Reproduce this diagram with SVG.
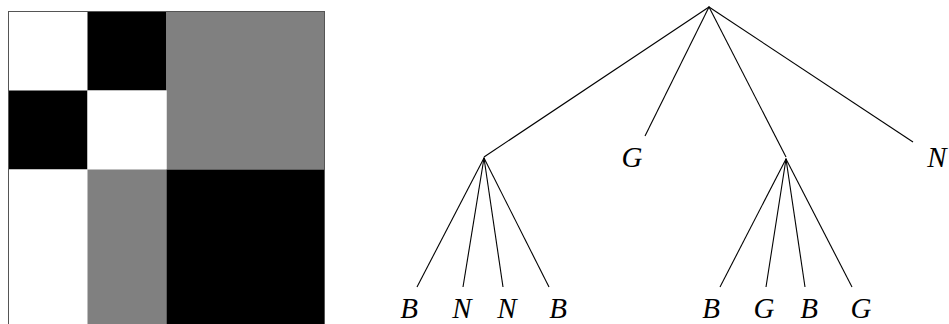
<svg xmlns="http://www.w3.org/2000/svg" width="949" height="324" viewBox="0 0 949 324">
<style>
.lbl{font-family:"Liberation Serif","DejaVu Serif",serif;font-style:italic;font-size:29px;fill:#000;text-anchor:middle}
.edge{stroke:#000;stroke-width:1.1;fill:none}
</style>
<rect width="949" height="324" fill="#fff"/>
<g id="matrix">
<rect x="8.5" y="11.5" width="79" height="79" fill="#fff"/>
<rect x="87.5" y="11.5" width="79" height="79" fill="#000"/>
<rect x="166.5" y="11.5" width="158" height="158" fill="#808080"/>
<rect x="8.5" y="90.5" width="79" height="79" fill="#000"/>
<rect x="87.5" y="90.5" width="79" height="79" fill="#fff"/>
<rect x="8.5" y="169.5" width="79" height="160" fill="#fff"/>
<rect x="87.5" y="169.5" width="79" height="160" fill="#808080"/>
<rect x="166.5" y="169.5" width="158" height="160" fill="#000"/>
<rect x="8.5" y="11.5" width="316" height="320" fill="none" stroke="#555" stroke-width="1"/>
</g>
<g id="connectors">
<line class="edge" x1="709" y1="7" x2="484" y2="157"/>
<line class="edge" x1="709" y1="7" x2="645" y2="136"/>
<line class="edge" x1="709" y1="7" x2="786" y2="157"/>
<line class="edge" x1="709" y1="7" x2="913" y2="142"/>
<line class="edge" x1="484" y1="158" x2="417" y2="287"/>
<line class="edge" x1="484" y1="158" x2="463" y2="287"/>
<line class="edge" x1="484" y1="158" x2="503" y2="287"/>
<line class="edge" x1="484" y1="158" x2="549" y2="287"/>
<line class="edge" x1="786" y1="159" x2="720" y2="287"/>
<line class="edge" x1="786" y1="159" x2="766" y2="287"/>
<line class="edge" x1="786" y1="159" x2="805" y2="287"/>
<line class="edge" x1="786" y1="159" x2="852" y2="287"/>
</g>
<g id="root"><circle cx="709" cy="7" r="0.8" fill="#000"/></g>
<g id="n1"><circle cx="484" cy="158" r="0.8" fill="#000"/></g>
<g id="n2"><text class="lbl" x="632" y="167">G</text></g>
<g id="n3"><circle cx="786" cy="159" r="0.8" fill="#000"/></g>
<g id="n4"><text class="lbl" x="937" y="167">N</text></g>
<g id="n1a"><text class="lbl" x="409" y="318">B</text></g>
<g id="n1b"><text class="lbl" x="462" y="318">N</text></g>
<g id="n1c"><text class="lbl" x="507" y="318">N</text></g>
<g id="n1d"><text class="lbl" x="558" y="318">B</text></g>
<g id="n3a"><text class="lbl" x="711" y="318">B</text></g>
<g id="n3b"><text class="lbl" x="764" y="318">G</text></g>
<g id="n3c"><text class="lbl" x="809" y="318">B</text></g>
<g id="n3d"><text class="lbl" x="861" y="318">G</text></g>
</svg>
